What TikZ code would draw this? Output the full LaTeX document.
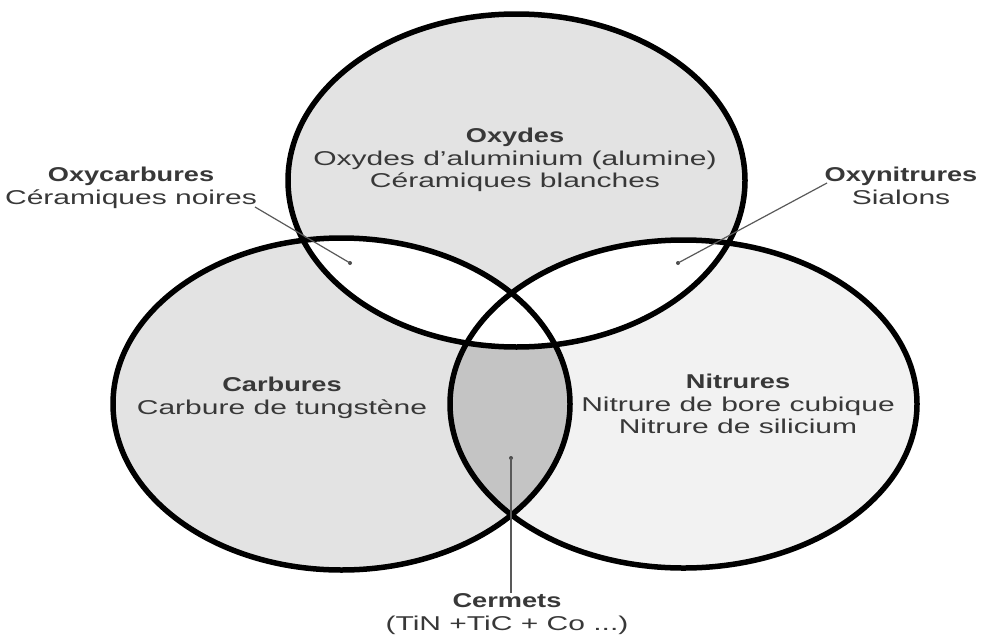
\documentclass[tikz,border=0pt]{standalone}
\usepackage{fontspec}
\setmainfont{Liberation Sans}[FakeStretch=1.5, BoldFeatures={FakeStretch=1.36}]
\begin{document}
\begin{tikzpicture}[x=1pt,y=-1pt,
  ring/.style={draw=black,line width=5.5pt},
  lbl/.style={align=center,inner sep=0pt,text=black!78,font=\fontsize{20}{22.5}\selectfont},
  leader/.style={draw=black!65,line width=1.2pt},
  dotend/.style={circle,fill=black!70,inner sep=0pt,minimum size=4pt}]
\useasboundingbox (0,0) rectangle (981,637);
\def\topE{(516.5,180.5) ellipse [x radius=228.5, y radius=166.5]}
\def\leftE{(341.5,404) ellipse [x radius=228.5, y radius=166]}
\def\rightE{(683.5,404) ellipse [x radius=233.5, y radius=164]}
% fills
\fill[black!11] \leftE;
\fill[black!5] \rightE;
\begin{scope}
  \clip \leftE;
  \fill[black!23] \rightE;
\end{scope}
\fill[black!11] \topE;
\begin{scope}
  \clip \topE;
  \fill[white] \leftE;
  \fill[white] \rightE;
\end{scope}
% outlines
\draw[ring] \leftE;
\draw[ring] \rightE;
\draw[ring] \topE;
% labels
\node[lbl] (oxydes) at (515,160) {\textbf{Oxydes}\\Oxydes d'aluminium (alumine)\\Céramiques blanches};
\node[lbl] (carb) at (282,398) {\textbf{Carbures}\\Carbure de tungstène};
\node[lbl] (nitr) at (738,404) {\textbf{Nitrures}\\Nitrure de bore cubique\\Nitrure de silicium};
\node[lbl] (oxyc) at (131,188) {\textbf{Oxycarbures}\\Céramiques noires};
\node[lbl] (oxyn) at (901,186) {\textbf{Oxynitrures}\\Sialons};
\node[lbl] (cerm) at (507,614) {\textbf{Cermets}\\(TiN +TiC + Co ...)};
% leader lines
\node[dotend] (d1) at (350,263) {};
\node[dotend] (d2) at (678,263) {};
\node[dotend] (d3) at (511,458) {};
\coordinate (c1) at (255,207);
\coordinate (c2) at (827,183);
\coordinate (c3) at (511,593);
\draw[leader] (c1) -- (d1.center);
\draw[leader] (c2) -- (d2.center);
\draw[leader] (c3) -- (d3.center);
\end{tikzpicture}
\end{document}
